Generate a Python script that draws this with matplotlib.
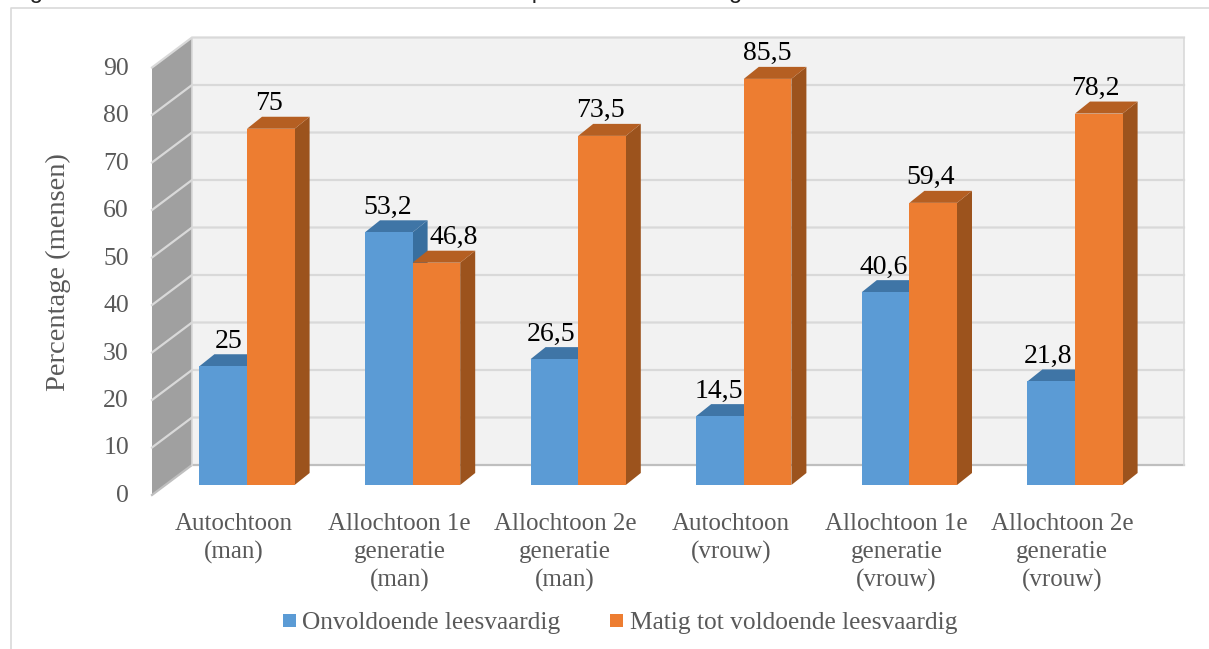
#!/usr/bin/env python
"""Pseudo-3D clustered column chart: reading skill per origin group."""
import matplotlib
matplotlib.use("Agg")
import matplotlib.pyplot as plt
from matplotlib.lines import Line2D
from matplotlib.patches import Rectangle

categories = ["Autochtoon\n(man)", "Allochtoon 1e\ngeneratie\n(man)", "Allochtoon 2e\ngeneratie\n(man)",
              "Autochtoon\n(vrouw)", "Allochtoon 1e\ngeneratie\n(vrouw)", "Allochtoon 2e\ngeneratie\n(vrouw)"]
onvoldoende = [25, 53.2, 26.5, 14.5, 40.6, 21.8]
matig = [75, 46.8, 73.5, 85.5, 59.4, 78.2]
y_ticks = [0, 10, 20, 30, 40, 50, 60, 70, 80, 90]
series_names = ["Onvoldoende leesvaardig", "Matig tot voldoende leesvaardig"]
# the caption is cut off by the picture's top edge, so its wording is a best guess
caption = "Figuur 10: Scores naar vorm en naar woord en aspect naar vorm en geslacht."

W, H = 1209, 649
PXX, PXY = 165.6, 4.75   # pixels per category / per percent
X0, Y0 = 247, 485        # pixel of the first group's seam at value 0
SERIF = "Liberation Serif"
GREY = "#595959"
GRID = "#D9D9D9"


def dx(px):
    return px / PXX


def dy(px):
    return px / PXY


def box(ax, left, width, val, front, top, side, z):
    """one column: front face, top and right side, depth 15x12 px"""
    d, h = dx(15), dy(12)
    ax.fill([left + width, left + width + d, left + width + d, left + width],
            [0, h, val + h, val], color=side, lw=0, zorder=z)
    ax.fill([left, left + d, left + width + d, left + width],
            [val, val + h, val + h, val], color=top, lw=0, zorder=z)
    ax.fill([left, left + width, left + width, left], [0, 0, val, val], color=front, lw=0, zorder=z)


fig = plt.figure(figsize=(W / 100, H / 100), dpi=100)
ax = fig.add_axes([0, 0, 1, 1])
ax.set_xlim(-X0 / PXX, (W - X0) / PXX)
ax.set_ylim((Y0 - H) / PXY, Y0 / PXY)
ax.axis("off")

fig.add_artist(Line2D([11 / W, 11 / W, 1], [0, 1 - 8 / H, 1 - 8 / H], color=GRID, lw=1.2))
fig.text(10 / W, 1 + 2 / H, caption, family="Liberation Sans", fontsize=17, color="#222222",
         ha="left", va="baseline", clip_on=False)

# walls
wf_x, wf_y = dx(152 - X0), dy(-10)
wb_x, wb_y = dx(192 - X0), dy(20)
wr_x = dx(1184 - X0)
ax.fill([wf_x, wb_x, wb_x, wf_x], [wf_y, wb_y, 90 + wb_y, 90 + wf_y], color="#A0A0A0", lw=0, zorder=1)
ax.add_patch(Rectangle((wb_x, wb_y), wr_x - wb_x, 90, fc="#F2F2F2", ec="none", zorder=1))
for v in y_ticks:
    col = "#BFBFBF" if v == 0 else GRID
    ax.plot([wf_x, wb_x, wr_x], [v + wf_y, v + wb_y, v + wb_y], color=col, lw=1.6, zorder=2,
            solid_joinstyle="miter")
    ax.text(dx(129 - X0), v + wf_y + dy(-1), str(v), family=SERIF, fontsize=18.5, color=GREY,
            ha="right", va="center")
ax.plot([wb_x, wb_x], [wb_y, 90 + wb_y], color=GRID, lw=1.2, zorder=2)
ax.plot([wr_x, wr_x], [wb_y, 90 + wb_y], color=GRID, lw=1.2, zorder=2)

ax.text(dx(58 - X0), dy(Y0 - 272), "Percentage (mensen)", family=SERIF, fontsize=20.5, color=GREY,
        rotation=90, ha="center", va="center")

# columns and labels
bw = dx(47.6)
nudge_blue = {0: 5, 1: -1, 2: -3, 3: -1, 4: -2, 5: -3}
nudge_orange = {0: -2, 1: 17, 2: -2, 3: 0, 4: -3, 5: -3}
for i in range(len(categories)):
    box(ax, i - bw, bw, onvoldoende[i], "#5B9BD5", "#3F75A6", "#386F9F", 3 + i * 0.01)
    box(ax, i, bw, matig[i], "#ED7D31", "#B55F22", "#9C531D", 3 + i * 0.01 + 0.005)
    ax.text(i - bw / 2 + dx(nudge_blue[i]), onvoldoende[i] + dy(25),
            f"{onvoldoende[i]}".replace(".", ","), family=SERIF, fontsize=20, color="black",
            ha="center", va="center", zorder=6)
    ax.text(i + bw / 2 + dx(nudge_orange[i]), matig[i] + dy(25),
            f"{matig[i]}".replace(".", ","), family=SERIF, fontsize=20, color="black",
            ha="center", va="center", zorder=6)
    ax.text(i + dx(-13), dy(Y0 - 513), categories[i], family=SERIF, fontsize=18, color=GREY,
            ha="center", va="top", linespacing=1.33)

# legend
for (px, name, col, tx) in [(283, series_names[0], "#5B9BD5", 302), (610, series_names[1], "#ED7D31", 630)]:
    ax.add_patch(Rectangle((dx(px - X0), dy(Y0 - 627)), dx(13), dy(13), fc=col, ec="none"))
    ax.text(dx(tx - X0), dy(Y0 - 623), name, family=SERIF, fontsize=18.3, color=GREY,
            ha="left", va="center")

fig.savefig("out.png", dpi=100)
plt.close(fig)
